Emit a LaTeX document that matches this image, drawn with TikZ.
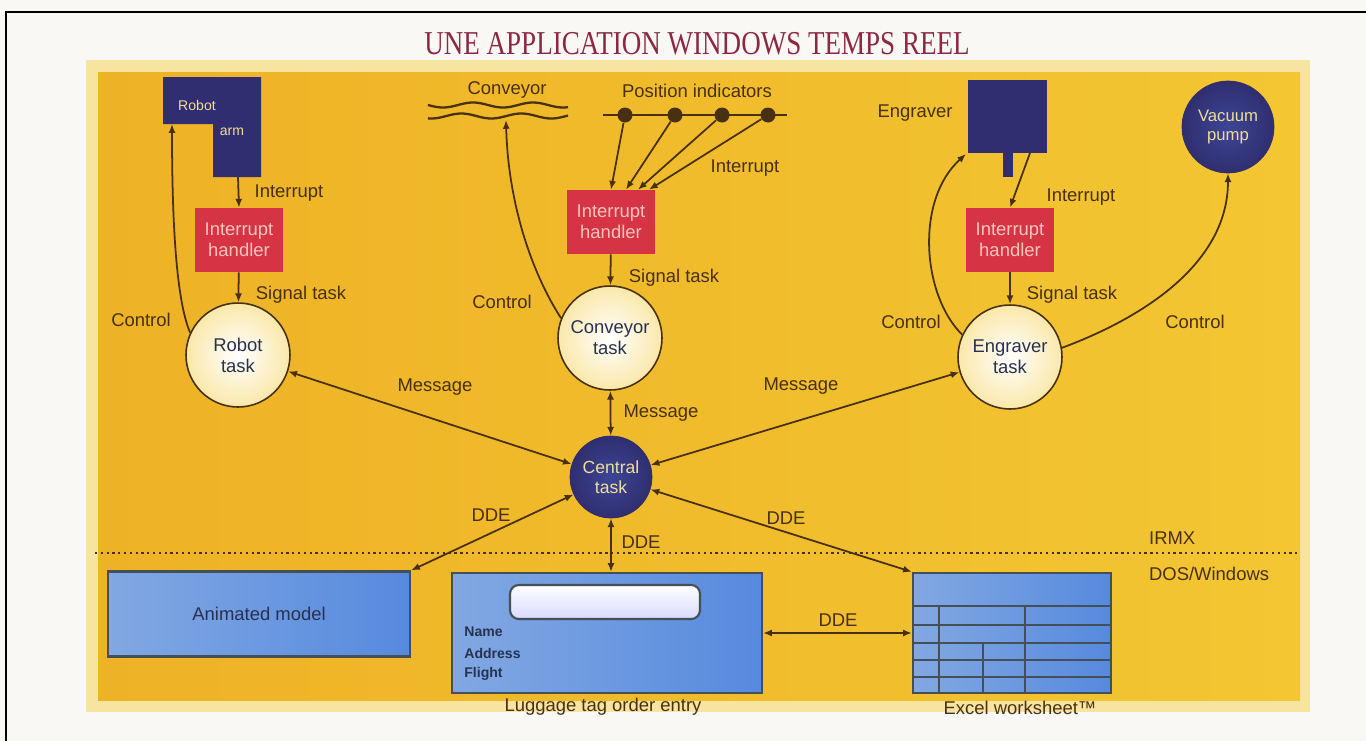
\documentclass[tikz,border=0pt]{standalone}
\usepackage{fontspec}
\setmainfont{Liberation Sans}
\newfontfamily\titlefont{Liberation Serif}
\usetikzlibrary{arrows.meta,calc}
\definecolor{ink}{RGB}{72,48,18}
\definecolor{titlered}{RGB}{140,40,70}
\definecolor{navy}{RGB}{48,46,112}
\definecolor{navyin}{RGB}{60,70,150}
\definecolor{hred}{RGB}{214,52,68}
\definecolor{htext}{RGB}{252,196,186}
\definecolor{ltext}{RGB}{240,222,150}
\definecolor{cream}{RGB}{250,232,170}
\definecolor{panelA}{RGB}{238,178,38}
\definecolor{panelB}{RGB}{243,198,50}
\definecolor{rim}{RGB}{246,228,160}
\definecolor{paper}{RGB}{250,248,244}
\definecolor{boxedge}{RGB}{70,78,86}
\definecolor{blueA}{RGB}{130,168,226}
\definecolor{blueB}{RGB}{86,138,222}
\definecolor{textblue}{RGB}{40,50,80}
\tikzset{
  lbl/.style={font=\fontsize{10.5}{12}\selectfont, text=ink, inner sep=1pt},
  conn/.style={draw=ink, line width=1pt},
  handlerbox/.style={rectangle, fill=hred, minimum width=1.76cm, minimum height=1.28cm,
    align=center, text=htext, font=\fontsize{10.5}{12}\selectfont, inner sep=1pt},
  taskdisc/.style={circle, draw=ink, line width=0.9pt, inner color=white, outer color=cream,
    minimum size=2.08cm, align=center, text=textblue, font=\fontsize{10.5}{12}\selectfont, inner sep=0pt},
  darkdisc/.style={circle, draw=navy, inner color=navyin, outer color=navy,
    align=center, text=ltext, inner sep=0pt},
  bluebox/.style={rectangle, draw=boxedge, line width=1.3pt, left color=blueA, right color=blueB, inner sep=0pt},
  dot/.style={circle, fill=ink, minimum size=0.3cm, inner sep=0pt},
  small/.style={font=\fontsize{8}{9}\selectfont\bfseries, text=textblue, inner sep=0pt}
}
\begin{document}
\begin{tikzpicture}[x=0.02cm, y=-0.02cm, >={Latex[length=5pt,width=4pt]}]
\useasboundingbox (0,0) rectangle (1366,741);
\fill[paper] (0,0) rectangle (1366,741);
\draw[line width=1.3pt] (6,741) -- (6,12) -- (1366,12);
% panel
\fill[rim] (86,60) rectangle (1310,712);
\shade[left color=panelA, right color=panelB] (98,72) rectangle (1300,700);

% title
\node[text=titlered, font=\titlefont\fontsize{19}{20}\selectfont] (title) at (697,44)
  {\scalebox{0.81}[1]{UNE APPLICATION WINDOWS TEMPS REEL}};

% ---------- Robot ----------
\fill[navy] (163,77) -- (261,77) -- (261,177) -- (213,177) -- (213,124) -- (163,124) -- cycle;
\node[text=ltext, font=\fontsize{8}{9}\selectfont, inner sep=0pt] (robottxt) at (197,105) {Robot};
\node[text=ltext, font=\fontsize{8}{9}\selectfont, inner sep=0pt] (armtxt) at (232,132) {arm};
\coordinate (robotB) at (238,177);
\coordinate (robotC) at (172,124);
\node[handlerbox] (h1) at (239,240) {Interrupt\\handler};
\node[taskdisc] (t1) at (238,355) {Robot\\task};
\draw[conn,->] (robotB) -- (h1.north);
\draw[conn,->] (h1) -- (t1);
\draw[conn,->] (t1.155) .. controls (176,300) and (172,220) .. (robotC);
\node[lbl] (l1) at (289,193) {Interrupt};
\node[lbl] (l2) at (301,295) {Signal task};
\node[lbl] (l3) at (141,320) {Control};

% ---------- Conveyor ----------
\draw[ink, line width=1.3pt] plot[domain=428:568, samples=60, smooth] (\x,{105+2.5*sin((\x-428)*6)});
\draw[ink, line width=1.3pt] plot[domain=428:568, samples=60, smooth] (\x,{116+2.5*sin((\x-428)*6+70)});
\coordinate (conv) at (506,120);
\node[lbl] (lconv) at (507,90) {Conveyor};
\draw[conn] (603,115) -- (787,115);
\node[dot] (p1) at (625,115) {};
\node[dot] (p2) at (675,115) {};
\node[dot] (p3) at (722,115) {};
\node[dot] (p4) at (768,115) {};
\node[lbl] (lpos) at (697,91) {Position indicators};
\node[handlerbox] (h2) at (611,222) {Interrupt\\handler};
\node[taskdisc] (t2) at (610,338) {Conveyor\\task};
\draw[conn,->] (p1) -- ($(h2.north)+(0,0)$);
\draw[conn,->] (p2) -- ($(h2.north)+(15,0)$);
\draw[conn,->] (p3) -- ($(h2.north)+(27,0)$);
\draw[conn,->] (p4) -- ($(h2.north)+(38,0)$);
\draw[conn,->] (h2) -- (t2);
\draw[conn,->] (t2.158) .. controls (530,270) and (508,200) .. (conv);
\node[lbl] (l4) at (745,168) {Interrupt};
\node[lbl] (l5) at (674,278) {Signal task};
\node[lbl] (l6) at (502,302) {Control};

% ---------- Engraver ----------
\fill[navy] (968,80) rectangle (1047,153);
\fill[navy] (1003,150) rectangle (1013,177);
\coordinate (engI) at (1030,153);
\coordinate (engL) at (966,154);
\node[lbl] (leng) at (915,113) {Engraver};
\node[handlerbox] (h3) at (1010,240) {Interrupt\\handler};
\node[taskdisc] (t3) at (1010,357) {Engraver\\task};
\node[darkdisc, minimum size=1.84cm, font=\fontsize{9.5}{11}\selectfont] (vac) at (1228,127) {Vacuum\\pump};
\draw[conn,->] (engI) -- (h3.north);
\draw[conn,->] (h3) -- (t3);
\draw[conn,->] (t3.155) .. controls (922,295) and (915,200) .. (engL);
\draw[conn,->] (t3.10) .. controls (1150,315) and (1228,260) .. (vac.south);
\node[lbl] (l7) at (1081,197) {Interrupt};
\node[lbl] (l8) at (1072,295) {Signal task};
\node[lbl] (l9) at (911,322) {Control};
\node[lbl] (l10) at (1195,322) {Control};

% ---------- Central ----------
\node[darkdisc, minimum size=1.64cm, font=\fontsize{10}{11.5}\selectfont] (central) at (611,477) {Central\\task};
\draw[conn,<->] (t1) -- (central);
\draw[conn,<->] (t2) -- (central);
\draw[conn,<->] (t3) -- (central);
\node[lbl] (m1) at (435,387) {Message};
\node[lbl] (m2) at (661,413) {Message};
\node[lbl] (m3) at (801,386) {Message};

% ---------- divider ----------
\draw[ink, dotted, line width=1.3pt] (95,553) -- (1300,553);
\node[lbl, anchor=west] (irmx) at (1147,538) {IRMX};
\node[lbl, anchor=west] (dos) at (1147,574) {DOS/Windows};

% ---------- bottom boxes ----------
\node[bluebox, minimum width=6.04cm, minimum height=1.7cm] (anim) at (259,614) {};
\node[font=\fontsize{10.5}{12}\selectfont, text=textblue] (animtxt) at (259,614) {Animated model};

\node[bluebox, minimum width=6.2cm, minimum height=2.4cm] (lug) at (607,633) {};
\node[rectangle, rounded corners=5pt, draw=boxedge, line width=1.2pt, top color=white, bottom color=white!85!blue,
  minimum width=3.8cm, minimum height=0.68cm] (bar) at (605,602) {};
\node[small, anchor=west] (nm) at (464,632) {Name};
\node[small, anchor=west] (ad) at (464,653) {Address};
\node[small, anchor=west] (fl) at (464,674) {Flight};
\node[lbl] (luglbl) at (603,707) {Luggage tag order entry};

\node[bluebox, minimum width=3.96cm, minimum height=2.4cm] (xl) at (1012,633) {};
\draw[boxedge, line width=1.4pt] (913,606) -- (1111,606);
\draw[boxedge, line width=1.1pt] (913,625) -- (1111,625);
\draw[boxedge, line width=1.1pt] (913,643) -- (1111,643);
\draw[boxedge, line width=1.1pt] (913,660) -- (1111,660);
\draw[boxedge, line width=1.1pt] (913,677) -- (1111,677);
\draw[boxedge, line width=1pt] (939,606) -- (939,693);
\draw[boxedge, line width=1pt] (983,643) -- (983,693);
\draw[boxedge, line width=1pt] (1025,606) -- (1025,693);
\node[lbl] (xllbl) at (1020,708) {Excel worksheet™};

% DDE
\draw[conn,<->] (central) -- (anim.north east);
\draw[conn,<->] (central.south) -- (central.south |- lug.north);
\draw[conn,<->] (central) -- (xl.north west);
\draw[conn,<->] (lug.east) -- (xl.west);
\node[lbl] (d1) at (491,515) {DDE};
\node[lbl] (d2) at (641,542) {DDE};
\node[lbl] (d3) at (786,518) {DDE};
\node[lbl] (d4) at (838,620) {DDE};
\end{tikzpicture}
\end{document}
